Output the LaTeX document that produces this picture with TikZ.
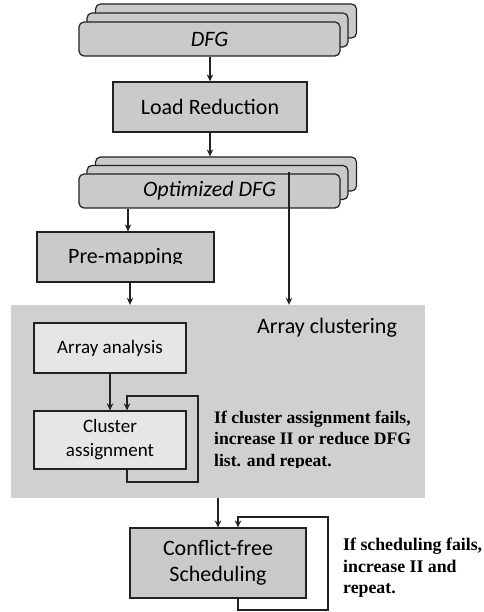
\documentclass[tikz,border=0pt]{standalone}
\usepackage{fontspec}
\setmainfont{Carlito}
\newfontfamily\notefont{Liberation Serif}
\usetikzlibrary{arrows.meta}

\definecolor{boxgray}{HTML}{CACACA}
\definecolor{panelgray}{HTML}{D0D0D0}
\definecolor{lightbox}{HTML}{E6E6E6}
\definecolor{ink}{HTML}{222222}

\tikzset{
  card/.style={draw=ink, fill=boxgray, rounded corners=5pt, line width=1.2pt,
    minimum width=261pt, minimum height=34pt, inner sep=0pt,
    font=\fontsize{22}{26}\selectfont\itshape},
  procbox/.style={draw=ink, fill=boxgray, line width=1.2pt, inner sep=0pt,
    font=\fontsize{22}{26}\selectfont, align=center},
  innerbox/.style={draw=ink, fill=lightbox, line width=1.2pt, inner sep=0pt,
    font=\fontsize{19}{24}\selectfont, align=center},
  flow/.style={draw=ink, line width=1.2pt, -{Stealth[length=7pt,width=6.5pt]}},
  note/.style={font=\notefont\bfseries\fontsize{17.6}{21.2}\selectfont,
    align=left, anchor=base west, inner sep=0pt}
}

\begin{document}
\begin{tikzpicture}[x=1pt,y=-1pt]
\useasboundingbox (0,0) rectangle (483,612);

% input DFG stack
\node[card] (dfgB) at (226,21) {};
\node[card] (dfgM) at (217.5,30) {};
\node[card] (dfg) at (209.5,39) {DFG};

% load reduction
\node[procbox, minimum width=194pt, minimum height=50pt] (lr) at (210,107) {Load Reduction};

% optimized DFG stack
\node[card] (optB) at (226,174) {};
\node[card] (optM) at (217.5,182.5) {};
\node[card] (opt) at (209.5,191) {Optimized DFG};

% pre-mapping (label cut at its baseline)
\node[procbox, minimum width=177pt, minimum height=50pt] (pre) at (125.5,257) {};
\begin{scope}
  \clip (0,0) rectangle (483,263);
  \node[font=\fontsize{22}{26}\selectfont, anchor=base, inner sep=0pt] (pretext) at (125.5,263) {Pre-mapping};
\end{scope}

% array clustering panel
\node[fill=panelgray, minimum width=414pt, minimum height=193pt, inner sep=0pt] (panel) at (218,401.5) {};
\node[font=\fontsize{22}{26}\selectfont, anchor=base west, inner sep=0pt] (paneltitle) at (257,333) {Array clustering};
\node[innerbox, minimum width=152pt, minimum height=50pt] (aa) at (110,348) {Array analysis};
\node[innerbox, minimum width=152pt, minimum height=58pt] (ca) at (110,440) {Cluster\\assignment};

% note beside the clustering loop (last line cut at its baseline)
\begin{scope}
  \clip (0,0) rectangle (483,467);
  \node[note] (note1) at (214,466) {If cluster assignment fails,\\increase II or reduce DFG\\list. and repeat.};
\end{scope}

% scheduling
\node[procbox, minimum width=176pt, minimum height=70pt] (cf) at (218,563) {Conflict-free\\Scheduling};
\node[note, font=\notefont\bfseries\fontsize{17.8}{21.4}\selectfont] (note2) at (343,593.5) {If scheduling fails,\\increase II and\\repeat.};

% connector columns
\coordinate (colA) at (128,0);
\coordinate (colB) at (130,0);
\coordinate (colC) at (289,172);
\coordinate (loopA) at (127,0);
\coordinate (loopAR) at (198,396);
\coordinate (loopAB) at (198,482);
\coordinate (loopB) at (238,0);
\coordinate (loopBR) at (328,517);
\coordinate (loopBB) at (328,610);

% connectors
\draw[flow] (lr.north |- dfg.south) -- (lr.north);
\draw[flow] (lr.south) -- (lr.south |- optB.north);
\draw[flow] (opt.south -| colA) -- (pre.north -| colA);
\draw[flow] (pre.south -| colB) -- (panel.north -| colB);
\draw[flow] (colC) -- (panel.north -| colC);
\draw[flow] (aa.south) -- (ca.north);
\draw[flow] (ca.south -| loopA) |- (loopAB) |- (loopAR -| loopA) -- (ca.north -| loopA);
\draw[flow] (panel.south -| cf.north) -- (cf.north);
\draw[flow] (cf.south -| loopB) |- (loopBB) |- (loopBR -| loopB) -- (cf.north -| loopB);
\end{tikzpicture}
\end{document}
